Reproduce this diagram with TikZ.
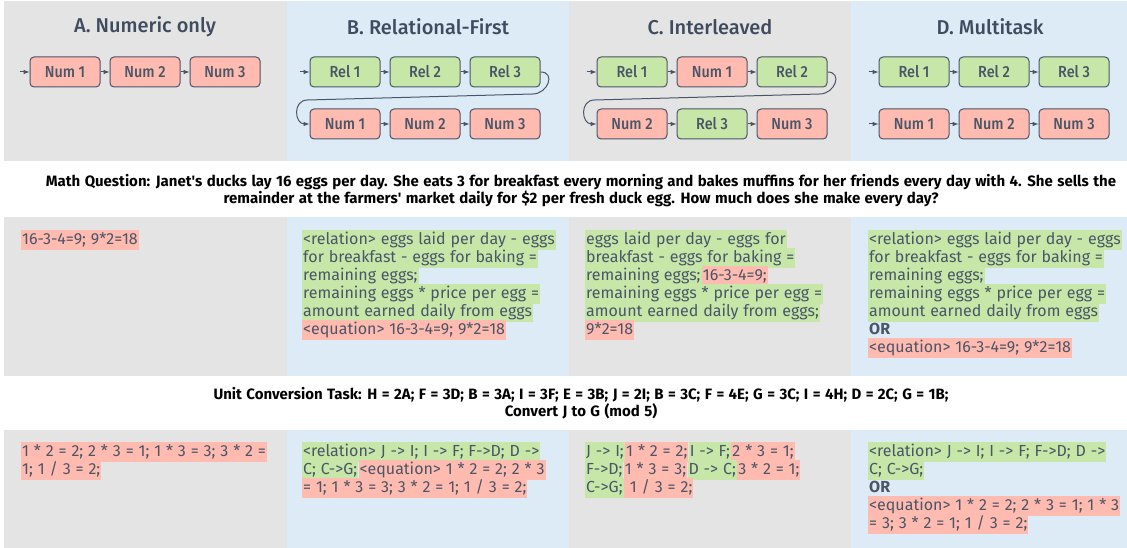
\documentclass[tikz,border=0pt]{standalone}
\usepackage{fontspec}
\setmainfont{Fira Sans}
\newfontfamily\medfont{Fira Sans Medium}
\newfontfamily\labelfont{Fira Sans Medium}[FakeStretch=0.9]
\newfontfamily\askfont{Fira Sans Bold}[WordSpace=1.25]
\newfontfamily\answerfont{Fira Sans}[WordSpace=1.15]
\usetikzlibrary{positioning}

\definecolor{panelgray}{HTML}{E4E4E4}
\definecolor{panelblue}{HTML}{DDEBF7}
\definecolor{numfill}{HTML}{FFBBB0}
\definecolor{relfill}{HTML}{C6E7A8}
\definecolor{edge}{HTML}{4A5568}
\definecolor{ink}{HTML}{4A5568}
\definecolor{titleink}{HTML}{3F4B5E}

\tikzset{
  title/.style={text=titleink, font=\medfont\fontsize{20}{24}\selectfont},
  stepbox/.style={draw=edge, line width=1pt, rounded corners=4pt, minimum width=70pt,
    minimum height=30pt, inner sep=0pt, text=ink, font=\labelfont\fontsize{16}{18}\selectfont},
  numbox/.style={stepbox, fill=numfill},
  relbox/.style={stepbox, fill=relfill},
  flow/.style={-latex, draw=edge, line width=1pt},
  question/.style={anchor=base, text=black, font=\askfont\fontsize{15}{18}\selectfont},
  hl/.style={anchor=base west, inner xsep=1pt, inner ysep=0pt, text height=14pt, text depth=6pt,
    text=ink, font=\answerfont\fontsize{16}{18}\selectfont},
  numhl/.style={hl, fill=numfill},
  relhl/.style={hl, fill=relfill}
}

\begin{document}
\begin{tikzpicture}[x=1pt, y=-1pt, node distance = 80pt]
      \useasboundingbox (0,0) rectangle (1127,548);
      % panels
      \fill [panelgray] (4,1) rectangle (287,161);
      \fill [panelblue] (287,1) rectangle (569,161);
      \fill [panelgray] (569,1) rectangle (851,161);
      \fill [panelblue] (851,1) rectangle (1127,161);
      \fill [panelgray] (4,217) rectangle (287,376);
      \fill [panelblue] (287,217) rectangle (569,376);
      \fill [panelgray] (569,217) rectangle (851,376);
      \fill [panelblue] (851,217) rectangle (1127,376);
      \fill [panelgray] (4,430) rectangle (287,548);
      \fill [panelblue] (287,430) rectangle (569,548);
      \fill [panelgray] (569,430) rectangle (851,548);
      \fill [panelblue] (851,430) rectangle (1127,548);

      % A. numeric only
      \node (A) at (145,27) [title] {A. Numeric only};
      \node (AN1) at (65,72) [numbox] {Num 1};
      \node (AN2) [numbox, right of=AN1] {Num 2};
      \node (AN3) [numbox, right of=AN2] {Num 3};
      \coordinate [left=10pt of AN1] (A0);
      \draw [flow] (A0) to (AN1);
      \draw [flow] (AN1) to (AN2);
      \draw [flow] (AN2) to (AN3);

      % B. relational first
      \node (B) at (428,27) [title] {B. Relational-First};
      \node (BR1) at (345,72) [relbox] {Rel 1};
      \node (BR2) [relbox, right of=BR1] {Rel 2};
      \node (BR3) [relbox, right of=BR2] {Rel 3};
      \node (BN1) at (345,124) [numbox] {Num 1};
      \node (BN2) [numbox, right of=BN1] {Num 2};
      \node (BN3) [numbox, right of=BN2] {Num 3};
      \coordinate [left=10pt of BR1] (B0);
      \draw [flow] (B0) to (BR1);
      \draw [flow] (BR1) to (BR2);
      \draw [flow] (BR2) to (BR3);
      \draw [flow] (BR3.east) to [out=0, in=0, looseness=1.7] ++(-8,22) -- ++(-225,6)
        to [out=180, in=180, looseness=1.6] (BN1.west);
      \draw [flow] (BN1) to (BN2);
      \draw [flow] (BN2) to (BN3);

      % C. interleaved
      \node (C) at (710,27) [title] {C. Interleaved};
      \node (CR1) at (632,72) [relbox] {Rel 1};
      \node (CN1) [numbox, right of=CR1] {Num 1};
      \node (CR2) [relbox, right of=CN1] {Rel 2};
      \node (CN2) at (632,124) [numbox] {Num 2};
      \node (CR3) [relbox, right of=CN2] {Rel 3};
      \node (CN3) [numbox, right of=CR3] {Num 3};
      \coordinate [left=10pt of CR1] (C0);
      \draw [flow] (C0) to (CR1);
      \draw [flow] (CR1) to (CN1);
      \draw [flow] (CN1) to (CR2);
      \draw [flow] (CR2.east) to [out=0, in=0, looseness=1.7] ++(-8,22) -- ++(-225,6)
        to [out=180, in=180, looseness=1.6] (CN2.west);
      \draw [flow] (CN2) to (CR3);
      \draw [flow] (CR3) to (CN3);

      % D. multitask
      \node (D) at (990,27) [title] {D. Multitask};
      \node (DR1) at (914,72) [relbox] {Rel 1};
      \node (DR2) [relbox, right of=DR1] {Rel 2};
      \node (DR3) [relbox, right of=DR2] {Rel 3};
      \node (DN1) at (914,124) [numbox] {Num 1};
      \node (DN2) [numbox, right of=DN1] {Num 2};
      \node (DN3) [numbox, right of=DN2] {Num 3};
      \coordinate [left=10pt of DR1] (D0);
      \coordinate [left=10pt of DN1] (D00);
      \draw [flow] (D0) to (DR1);
      \draw [flow] (DR1) to (DR2);
      \draw [flow] (DR2) to (DR3);
      \draw [flow] (D00) to (DN1);
      \draw [flow] (DN1) to (DN2);
      \draw [flow] (DN2) to (DN3);

      % math question
      \node (QM1) at (581,187) [question] {Math Question: Janet\textquotesingle s ducks lay 16 eggs per day. She eats 3 for breakfast every morning and bakes muffins for her friends every day with 4. She sells the};
      \node (QM2) at (581,204) [question] {remainder at the farmers\textquotesingle{} market daily for \$2 per fresh duck egg. How much does she make every day?};

      \node (AM1) at (21,244) [numhl] {16-3-4=9; 9*2=18};

      \node (BM1) at (302,244) [relhl] {<relation> eggs laid per day - eggs\ };
      \node (BM2) at (302,262) [relhl] {for breakfast - eggs for baking =\ };
      \node (BM3) at (302,280) [relhl] {remaining eggs;};
      \node (BM4) at (302,298) [relhl] {remaining eggs * price per egg =\ };
      \node (BM5) at (302,316) [relhl] {amount earned daily from eggs\ };
      \node (BM6) at (302,334) [numhl] {<equation> 16-3-4=9; 9*2=18};

      \node (CM1) at (585,244) [relhl] {eggs laid per day - eggs for\ };
      \node (CM2) at (585,262) [relhl] {breakfast - eggs for baking =};
      \node (CM3) at (585,280) [relhl] {remaining eggs;\ };
      \node (CM3b) [numhl, right=0pt of CM3] {16-3-4=9;};
      \node (CM4) at (585,298) [relhl] {remaining eggs * price per egg =};
      \node (CM5) at (585,316) [relhl] {amount earned daily from eggs;\ };
      \node (CM6) at (585,334) [numhl] {9*2=18};

      \node (DM1) at (868,244) [relhl] {<relation> eggs laid per day - eggs};
      \node (DM2) at (868,262) [relhl] {for breakfast - eggs for baking =\ };
      \node (DM3) at (868,280) [relhl] {remaining eggs;};
      \node (DM4) at (868,298) [relhl] {remaining eggs * price per egg =\ };
      \node (DM5) at (868,316) [relhl] {amount earned daily from eggs};
      \node (DM6) at (868,334) [hl] {\bfseries OR};
      \node (DM7) at (868,352) [numhl] {<equation> 16-3-4=9; 9*2=18};

      % unit conversion task
      \node (QU1) at (581,399) [question] {Unit Conversion Task: H = 2A; F = 3D; B = 3A; I = 3F; E = 3B; J = 2I; B = 3C; F = 4E; G = 3C; I = 4H; D = 2C; G = 1B;};
      \node (QU2) at (581,416) [question] {Convert J to G (mod 5)};

      \node (AU1) at (21,456) [numhl] {1 * 2 = 2; 2 * 3 = 1; 1 * 3 = 3; 3 * 2 =};
      \node (AU2) at (21,474) [numhl] {1; 1 / 3 = 2;};

      \node (BU1) at (302,456) [relhl] {<relation> J -> I; I -> F; F->D; D ->\ };
      \node (BU2) at (302,474) [relhl] {C; C->G;\ };
      \node (BU2b) [numhl, right=0pt of BU2] {<equation> 1 * 2 = 2; 2 * 3};
      \node (BU3) at (302,492) [numhl] {= 1; 1 * 3 = 3; 3 * 2 = 1; 1 / 3 = 2;};

      \node (CU1) at (585,456) [relhl] {J -> I;\ };
      \node (CU1b) [numhl, right=0pt of CU1] {1 * 2 = 2;\ };
      \node (CU1c) [relhl, right=0pt of CU1b] {I -> F;\ };
      \node (CU1d) [numhl, right=0pt of CU1c] {2 * 3 = 1;};
      \node (CU2) at (585,474) [relhl] {F->D;\ };
      \node (CU2b) [numhl, right=0pt of CU2] {1 * 3 = 3;\ };
      \node (CU2c) [relhl, right=0pt of CU2b] {D -> C;\ };
      \node (CU2d) [numhl, right=0pt of CU2c] {3 * 2 = 1;};
      \node (CU3) at (585,492) [relhl] {C->G;\ };
      \node (CU3b) [numhl, right=0pt of CU3] {\ 1 / 3 = 2;};

      \node (DU1) at (868,456) [relhl] {<relation> J -> I; I -> F; F->D; D ->\ };
      \node (DU2) at (868,474) [relhl] {C; C->G;};
      \node (DU3) at (868,492) [hl] {\bfseries OR};
      \node (DU4) at (868,510) [numhl] {<equation> 1 * 2 = 2; 2 * 3 = 1; 1 * 3};
      \node (DU5) at (868,528) [numhl] {= 3; 3 * 2 = 1; 1 / 3 = 2;};
      \end{tikzpicture}
\end{document}
